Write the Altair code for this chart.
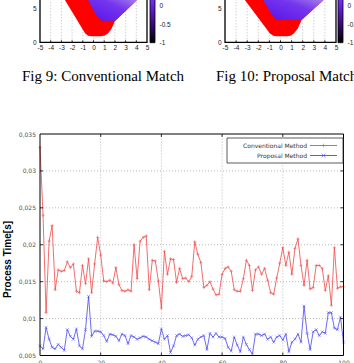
import altair as alt
import pandas as pd

W, H = 354, 363

# ---------------- main line chart data ----------------
frames = list(range(101))
conventional = [
    0.0332, 0.0240, 0.0108, 0.0205, 0.0226, 0.0139, 0.0166, 0.0164, 0.0165, 0.0177,
    0.0169, 0.0174, 0.0137, 0.0135, 0.0172, 0.0147, 0.0181, 0.0135, 0.0174, 0.0210,
    0.0186, 0.0151, 0.0150, 0.0152, 0.0148, 0.0169, 0.0146, 0.0138, 0.0137, 0.0139,
    0.0137, 0.0200, 0.0154, 0.0205, 0.0210, 0.0212, 0.0139, 0.0179, 0.0178, 0.0151,
    0.0114, 0.0191, 0.0160, 0.0181, 0.0180, 0.0149, 0.0168, 0.0154, 0.0155, 0.0150,
    0.0157, 0.0204, 0.0187, 0.0176, 0.0142, 0.0145, 0.0150, 0.0140, 0.0132, 0.0133,
    0.0160, 0.0168, 0.0170, 0.0164, 0.0139, 0.0137, 0.0137, 0.0154, 0.0179, 0.0172,
    0.0138, 0.0166, 0.0170, 0.0160, 0.0168, 0.0152, 0.0135, 0.0133, 0.0155, 0.0175,
    0.0196, 0.0172, 0.0190, 0.0160, 0.0195, 0.0208, 0.0172, 0.0145, 0.0179, 0.0140,
    0.0142, 0.0172, 0.0172, 0.0168, 0.0138, 0.0158, 0.0118, 0.0196, 0.0141, 0.0143,
    0.0143,
]
proposal = [
    0.0063, 0.0059, 0.0088, 0.0072, 0.0061, 0.0059, 0.0065, 0.0061, 0.0057, 0.0085,
    0.0076, 0.0072, 0.0086, 0.0063, 0.0059, 0.0085, 0.0130, 0.0076, 0.0083, 0.0083,
    0.0082, 0.0077, 0.0069, 0.0079, 0.0078, 0.0076, 0.0070, 0.0079, 0.0077, 0.0066,
    0.0077, 0.0075, 0.0072, 0.0074, 0.0076, 0.0075, 0.0072, 0.0070, 0.0068, 0.0066,
    0.0086, 0.0072, 0.0077, 0.0054, 0.0063, 0.0077, 0.0079, 0.0076, 0.0077, 0.0078,
    0.0074, 0.0064, 0.0072, 0.0075, 0.0077, 0.0058, 0.0080, 0.0075, 0.0080, 0.0075,
    0.0075, 0.0073, 0.0061, 0.0056, 0.0075, 0.0064, 0.0055, 0.0075, 0.0065, 0.0058,
    0.0052, 0.0079, 0.0079, 0.0077, 0.0079, 0.0072, 0.0075, 0.0068, 0.0075, 0.0077,
    0.0071, 0.0079, 0.0055, 0.0068, 0.0072, 0.0079, 0.0068, 0.0117, 0.0080, 0.0058,
    0.0082, 0.0085, 0.0077, 0.0082, 0.0080, 0.0108, 0.0108, 0.0087, 0.0085, 0.0102,
    0.0068,
]
series_names = ["Conventional Method", "Proposal Method"]
series_colors = ["#f04848", "#4646ee"]
x_ticks = [0, 20, 40, 60, 80, 100]
y_ticks = [0.005, 0.01, 0.015, 0.02, 0.025, 0.03, 0.035]

# ---------------- heatmap (top) data ----------------
hm_x_ticks = [-5, -4, -3, -2, -1, 0, 1, 2, 3, 4, 5]
hm_y_ticks = [0, 5]
cb_ticks = [-1, -0.5, 0]
# figure 9 (left)
red9_x = [-2.97, -1.82, -0.79, -0.5, -0.2, 0.7, 1.05, 1.35, 1.65, 2.0, 3.1, 4.04, 4.58]
red9_y = [7.0, 4.0, 1.32, 0.97, 0.9, 0.9, 1.0, 1.3, 1.9, 3.1, 4.75, 6.2, 7.0]
pur9_x = [-0.75, -0.49, -0.02, 0.36, 0.77, 2.0, 3.1, 4.04, 4.58]
pur9_y = [7.0, 6.2, 4.75, 3.77, 3.18, 3.18, 4.75, 6.2, 7.0]
# figure 10 (right)
red10_x = [-3.57, -0.95, -0.65, -0.35, 0.6, 0.9, 1.2, 1.55, 1.9, 3.86, 4.4]
red10_y = [7.0, 1.3, 0.95, 0.88, 0.88, 0.95, 1.3, 2.0, 3.28, 6.2, 7.0]
pur10_x = [-1.84, -1.55, -0.9, -0.5, -0.2, 1.9, 3.86, 4.4]
pur10_y = [7.0, 6.2, 4.4, 3.5, 3.28, 3.28, 6.2, 7.0]
captions = ["Fig 9: Conventional Match", "Fig 10: Proposal Match"]

# ---------------- scales ----------------
def qscale(domain, rng):
    return alt.Scale(domain=domain, range=rng, nice=False, zero=False)

X0, X1, Y0, Y1 = 40, 343.5, 355.5, 134
MX = qscale([0, 100], [X0, X1])
MY = qscale([0.005, 0.035], [Y0, Y1])

one = pd.DataFrame({"k": [0]})
GRID = "#a8a8a8"
RED, BLUE = series_colors
plus_path = "M-1,0L1,0M0,-1L0,1"
x_path = "M-1,-1L1,1M-1,1L1,-1"

df_conv = pd.DataFrame({"frame": frames, "time": conventional})
df_prop = pd.DataFrame({"frame": frames, "time": proposal})

layers = []

# grid lines main chart
gx = pd.DataFrame({"t": x_ticks[1:-1]})
gx["lo"], gx["hi"] = y_ticks[0], y_ticks[-1]
layers.append(alt.Chart(gx).mark_rule(color=GRID, strokeDash=[1, 2], strokeWidth=0.8).encode(
    x=alt.X("t:Q", scale=MX, axis=None),
    y=alt.Y("lo:Q", scale=MY, axis=None), y2="hi:Q"))
gy = pd.DataFrame({"t": y_ticks[1:-1]})
gy["lo"], gy["hi"] = x_ticks[0], x_ticks[-1]
layers.append(alt.Chart(gy).mark_rule(color=GRID, strokeDash=[1, 2], strokeWidth=0.8).encode(
    y=alt.Y("t:Q", scale=MY, axis=None),
    x=alt.X("lo:Q", scale=MX, axis=None), x2="hi:Q"))

# lines with axes
xaxis = alt.Axis(orient="bottom", offset=-(H - Y0), values=x_ticks, grid=False, domain=False,
                 ticks=False, labelFlush=False, labelOverlap=False, labelFont="DejaVu Sans",
                 labelFontSize=6, labelColor="#555555", labelPadding=4, title=None)
yaxis = alt.Axis(orient="left", offset=-X0, values=y_ticks, grid=False, domain=False,
                 ticks=False, labelFlush=False, labelOverlap=False, labelFont="DejaVu Sans",
                 labelFontSize=6, labelColor="#555555", labelPadding=4.5,
                 labelExpr="replace(format(datum.value, '.3~f'), '.', ',')",
                 title="Process Time[s]", titleFont="Liberation Sans", titleFontSize=10,
                 titleFontWeight="bold", titleColor="#000000", titleAngle=270,
                 titleBaseline="bottom", titleX=-28, titleY=259)
layers.append(alt.Chart(df_conv).mark_line(color=RED, strokeWidth=0.8).encode(
    x=alt.X("frame:Q", scale=MX, axis=xaxis),
    y=alt.Y("time:Q", scale=MY, axis=yaxis)))
layers.append(alt.Chart(df_conv).mark_point(shape=plus_path, size=10, filled=False,
                                            strokeWidth=0.7, color=RED).encode(
    x=alt.X("frame:Q", scale=MX, axis=None),
    y=alt.Y("time:Q", scale=MY, axis=None)))
layers.append(alt.Chart(df_prop).mark_line(color=BLUE, strokeWidth=0.8).encode(
    x=alt.X("frame:Q", scale=MX, axis=None),
    y=alt.Y("time:Q", scale=MY, axis=None)))
layers.append(alt.Chart(df_prop).mark_point(shape=x_path, size=8, filled=False,
                                            strokeWidth=0.7, color=BLUE).encode(
    x=alt.X("frame:Q", scale=MX, axis=None),
    y=alt.Y("time:Q", scale=MY, axis=None)))

# inward ticks (gnuplot style)
tl = pd.DataFrame({"t": y_ticks[1:-1]})
tl["a"], tl["b"], tl["c"], tl["d"] = 0, 1, 99, 100
layers.append(alt.Chart(tl).mark_rule(color="#000000", strokeWidth=0.8).encode(
    y=alt.Y("t:Q", scale=MY, axis=None), x=alt.X("a:Q", scale=MX, axis=None), x2="b:Q"))
layers.append(alt.Chart(tl).mark_rule(color="#000000", strokeWidth=0.8).encode(
    y=alt.Y("t:Q", scale=MY, axis=None), x=alt.X("c:Q", scale=MX, axis=None), x2="d:Q"))
tb = pd.DataFrame({"t": x_ticks[1:-1]})
tb["a"], tb["b"], tb["c"], tb["d"] = 0.005, 0.0054, 0.0346, 0.035
layers.append(alt.Chart(tb).mark_rule(color="#000000", strokeWidth=0.8).encode(
    x=alt.X("t:Q", scale=MX, axis=None), y=alt.Y("a:Q", scale=MY, axis=None), y2="b:Q"))
layers.append(alt.Chart(tb).mark_rule(color="#000000", strokeWidth=0.8).encode(
    x=alt.X("t:Q", scale=MX, axis=None), y=alt.Y("c:Q", scale=MY, axis=None), y2="d:Q"))

# frame
fr = pd.DataFrame({"x0": [x_ticks[0]], "x1": [x_ticks[-1]], "y0": [y_ticks[0]], "y1": [y_ticks[-1]]})
layers.append(alt.Chart(fr).mark_rect(fillOpacity=0, stroke="#000000", strokeWidth=1).encode(
    x=alt.X("x0:Q", scale=MX, axis=None), x2="x1:Q",
    y=alt.Y("y0:Q", scale=MY, axis=None), y2="y1:Q"))

# legend
layers.append(alt.Chart(one).mark_rect(fill="#ffffff", stroke="#333333", strokeWidth=0.8).encode(
    x=alt.value(227), x2=alt.value(343), y=alt.value(138), y2=alt.value(163)))
df_leg = pd.DataFrame({"series": series_names})
LEGY = alt.Scale(type="point", domain=series_names, range=[145.5, 155.5], padding=0)
LEGC = alt.Scale(domain=series_names, range=series_colors)
layers.append(alt.Chart(df_leg).mark_text(align="right", baseline="middle", font="DejaVu Sans",
                                          fontSize=6, color="#333333").encode(
    x=alt.value(307), y=alt.Y("series:N", scale=LEGY, axis=None), text="series:N"))
layers.append(alt.Chart(df_leg).mark_rule(strokeWidth=0.9).encode(
    x=alt.value(310), x2=alt.value(337), y=alt.Y("series:N", scale=LEGY, axis=None),
    color=alt.Color("series:N", scale=LEGC, legend=None)))
layers.append(alt.Chart(df_leg).mark_point(filled=False, size=14, strokeWidth=0.8).encode(
    x=alt.value(323.5), y=alt.Y("series:N", scale=LEGY, axis=None),
    color=alt.Color("series:N", scale=LEGC, legend=None),
    shape=alt.Shape("series:N", scale=alt.Scale(domain=series_names, range=[plus_path, x_path]),
                    legend=None)))

# ---------------- heatmaps ----------------
HY = qscale([0, 7], [42.3, 42.3 - 7 * 6.8])
CB = qscale([-1, 0], [42.7, 5.3])
purple_grad = alt.LinearGradient(
    gradient="linear",
    stops=[alt.GradientStop(offset=0, color="#5512ea"),
           alt.GradientStop(offset=0.55, color="#7535ee"),
           alt.GradientStop(offset=1, color="#b7a2e6")],
    x1=0, y1=1, x2=1, y2=0)
cb_grad = alt.LinearGradient(
    gradient="linear",
    stops=[alt.GradientStop(offset=0, color="#000000"),
           alt.GradientStop(offset=0.37, color="#3a0a78"),
           alt.GradientStop(offset=0.74, color="#6a22e6"),
           alt.GradientStop(offset=1, color="#7c44ff")],
    x1=0, y1=1, x2=0, y2=0)


def heatmap(red_x, red_y, pur_x, pur_y, px0, px1, cbx):
    HX = qscale([-5, 5], [px0, px1])
    out = []
    g = pd.DataFrame({"t": hm_x_ticks[1:-1]})
    g["lo"], g["hi"], g["tk"] = 0, 7, 0.3
    out.append(alt.Chart(g).mark_rule(color=GRID, strokeDash=[1, 2], strokeWidth=0.8).encode(
        x=alt.X("t:Q", scale=HX, axis=None), y=alt.Y("lo:Q", scale=HY, axis=None), y2="hi:Q"))
    dr = pd.DataFrame({"x": red_x, "y": red_y})
    dr["top"] = 7
    hx_axis = alt.Axis(orient="bottom", offset=-(H - 42.3), values=hm_x_ticks, grid=False,
                       domain=False, ticks=False, labelFlush=False, labelOverlap=False,
                       labelFont="Liberation Sans", labelFontSize=6.5, labelColor="#222222",
                       labelPadding=2.5, labelExpr="toString(datum.value)", title=None)
    hy_axis = alt.Axis(orient="left", offset=-px0, values=hm_y_ticks, grid=False,
                       domain=False, ticks=False, labelFlush=False, labelOverlap=False,
                       labelFont="Liberation Sans", labelFontSize=6.5, labelColor="#222222",
                       labelPadding=4, labelExpr="toString(datum.value)", title=None)
    out.append(alt.Chart(dr).mark_area(color="#ff0000").encode(
        x=alt.X("x:Q", scale=HX, axis=hx_axis),
        y=alt.Y("y:Q", scale=HY, axis=hy_axis), y2="top:Q"))
    dp = pd.DataFrame({"x": pur_x, "y": pur_y})
    dp["top"] = 7
    out.append(alt.Chart(dp).mark_area(color=purple_grad).encode(
        x=alt.X("x:Q", scale=HX, axis=None),
        y=alt.Y("y:Q", scale=HY, axis=None), y2="top:Q"))
    out.append(alt.Chart(g).mark_rule(color="#000000", strokeWidth=0.8).encode(
        x=alt.X("t:Q", scale=HX, axis=None), y=alt.Y("lo:Q", scale=HY, axis=None), y2="tk:Q"))
    f = pd.DataFrame({"x0": [-5], "x1": [5], "y0": [0], "y1": [7]})
    out.append(alt.Chart(f).mark_rect(fillOpacity=0, stroke="#000000", strokeWidth=1.3).encode(
        x=alt.X("x0:Q", scale=HX, axis=None), x2="x1:Q",
        y=alt.Y("y0:Q", scale=HY, axis=None), y2="y1:Q"))
    cbd = pd.DataFrame({"lo": [cb_ticks[0]], "hi": [0.35]})
    cb_axis = alt.Axis(orient="right", offset=-(W - (cbx + 5)), values=cb_ticks, grid=False,
                       domain=False, ticks=False, labelFlush=False, labelOverlap=False,
                       labelFont="Liberation Sans", labelFontSize=6.5, labelColor="#222222",
                       labelPadding=4, labelExpr="toString(datum.value)", title=None)
    out.append(alt.Chart(cbd).mark_rect(color=cb_grad, stroke="#000000", strokeWidth=0.8).encode(
        x=alt.value(cbx), x2=alt.value(cbx + 5),
        y=alt.Y("lo:Q", scale=CB, axis=cb_axis), y2="hi:Q"))
    return out


layers += heatmap(red9_x, red9_y, pur9_x, pur9_y, 40, 147, 150)
layers += heatmap(red10_x, red10_y, pur10_x, pur10_y, 225, 336, 338)

# captions
dc = pd.DataFrame({"caption": captions})
layers.append(alt.Chart(dc).mark_text(align="left", baseline="alphabetic", font="Liberation Serif",
                                      fontSize=15, color="#000000").encode(
    x=alt.X("caption:N", scale=alt.Scale(type="point", domain=captions, range=[22, 216], padding=0),
            axis=None),
    y=alt.value(81), text="caption:N"))

chart = alt.layer(*layers).resolve_scale(
    x="independent", y="independent", color="independent", shape="independent"
).properties(
    width=W, height=H, padding=0, autosize=alt.AutoSizeParams(type="none")
).configure_view(strokeWidth=0)

chart.save("out.html", embed_options={"renderer": "svg", "actions": False})
